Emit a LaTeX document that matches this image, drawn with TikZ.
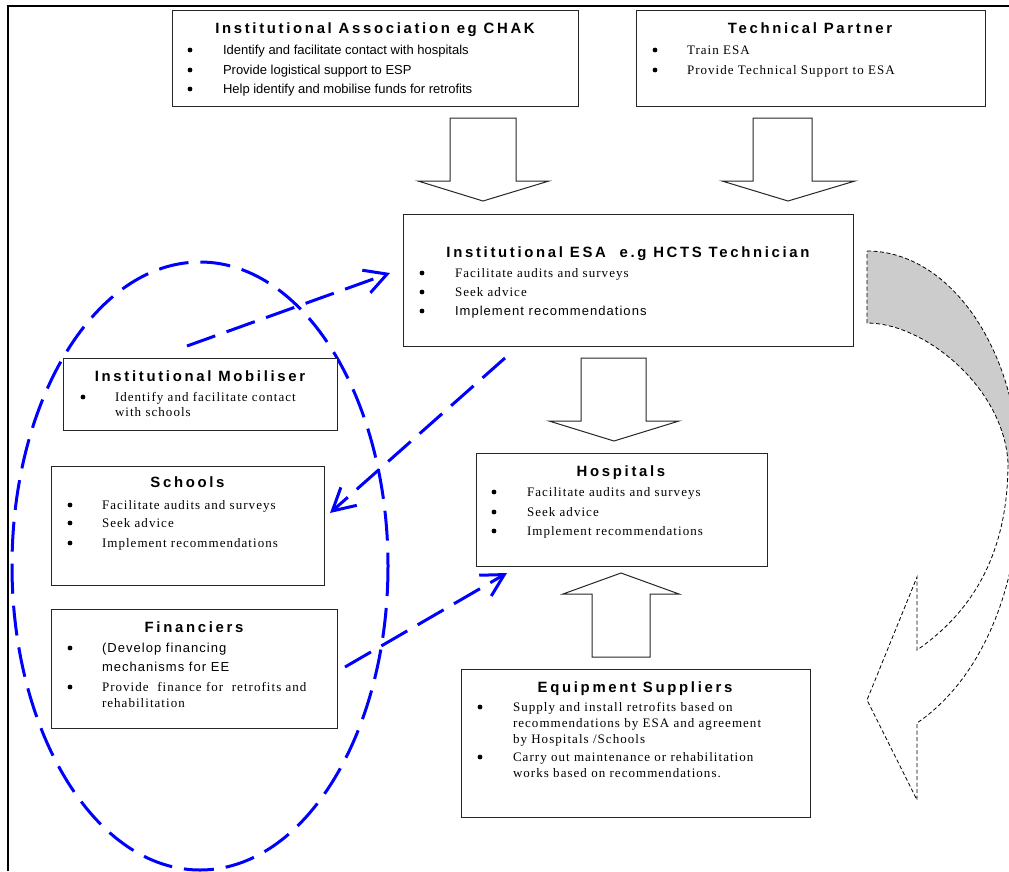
\documentclass[tikz,border=0pt]{standalone}
\usepackage{fontspec}
\setmainfont{Liberation Serif}
\newfontfamily\TitleFam[LetterSpace=18]{Liberation Sans}
\newfontfamily\SansSp[LetterSpace=8]{Liberation Sans}
\newfontfamily\SansPl{Liberation Sans}
\newfontfamily\SerifSp[LetterSpace=8]{Liberation Serif}
\usetikzlibrary{arrows.meta}
\newcommand\FTitle{\TitleFam\bfseries\fontsize{14.9}{17}\selectfont}
\newcommand\FSans{\SansSp\fontsize{13}{15}\selectfont}
\newcommand\FPlain{\SansPl\fontsize{13}{15}\selectfont}
\newcommand\FSerif{\SerifSp\fontsize{13}{15}\selectfont}
% #1 name, #2 x, #3 centre y, #4 font, #5 text
\newcommand\tline[5]{\node[txt,font=#4] (#1) at (#2,#3+4.5) {#5};}
\newcommand\bdot[2]{\fill[black] (#1,#2) circle[radius=2.4pt];}
\begin{document}
\begin{tikzpicture}[x=1pt,y=-1pt,
  box/.style={draw=black!85, line width=1.1pt, fill=white, inner sep=0pt, anchor=north west},
  txt/.style={inner sep=0pt, outer sep=0pt, anchor=base west},
  ttl/.style={inner sep=0pt, outer sep=0pt, anchor=base, font=\FTitle},
  blockarrow/.style={draw=black!85, line width=1pt, fill=white, line join=miter},
  bluedash/.style={draw=blue, line width=3pt, dash pattern=on 30pt off 12pt},
  bluearrow/.style={bluedash, -{Straight Barb[length=22pt,width=24pt]}},
  curvedash/.style={draw=black, line width=0.8pt, dash pattern=on 4pt off 2.5pt}]
\useasboundingbox (0,0) rectangle (1009,871);
\fill[white] (0,0) rectangle (1009,871);

% page frame
\draw[line width=2pt] (8,871) -- (8,6) -- (1009,6);

% blue ellipse
\draw[bluedash] (200,566) ellipse[x radius=188, y radius=304];

% boxes
\node[box, minimum width=406pt, minimum height=96pt] (ia) at (172,10) {};
\node[box, minimum width=349pt, minimum height=96pt] (tp) at (636,10) {};
\node[box, minimum width=450pt, minimum height=132pt] (esa) at (403,214) {};
\node[box, minimum width=291pt, minimum height=113pt] (hosp) at (476,453) {};
\node[box, minimum width=349pt, minimum height=148pt] (equip) at (461,669) {};
\node[box, minimum width=274pt, minimum height=72pt] (mob) at (63,358) {};
\node[box, minimum width=273pt, minimum height=119pt] (sch) at (51,466) {};
\node[box, minimum width=286pt, minimum height=119pt] (fin) at (51,609) {};

% block arrows
\draw[blockarrow] (450,118) -- (516,118) -- (516,181) -- (549,181) -- (483,201) -- (418,181) -- (450,181) -- cycle;
\draw[blockarrow] (753,118) -- (812,118) -- (812,181) -- (855,181) -- (788,201) -- (722,181) -- (753,181) -- cycle;
\draw[blockarrow] (581,358) -- (646,358) -- (646,421) -- (679,421) -- (614,441) -- (549,421) -- (581,421) -- cycle;
\draw[blockarrow] (592,657) -- (650,657) -- (650,594) -- (679,594) -- (621,573) -- (563,594) -- (592,594) -- cycle;

% curved return arrow
\begin{scope}
\clip (860,240) rectangle (1009,465);
\fill[gray!40] (867,251) .. controls (950,251) and (1020,350) .. (1020,480)
  .. controls (1020,590) and (980,680) .. (917,723) -- (917,800) -- (867,700) -- (917,577) -- (917,650)
  .. controls (975,610) and (1008,550) .. (1008,463)
  .. controls (1004,388) and (925,323) .. (867,323) -- cycle;
\end{scope}
\draw[curvedash] (867,251) .. controls (950,251) and (1020,350) .. (1020,480)
  .. controls (1020,590) and (980,680) .. (917,723) -- (917,800) -- (867,700) -- (917,577) -- (917,650)
  .. controls (975,610) and (1008,550) .. (1008,463)
  .. controls (1004,388) and (925,323) .. (867,323) -- cycle;

% blue dashed connectors
\coordinate (b1s) at (187,346);
\coordinate (b1e) at (390,273);
\coordinate (b2s) at (505,358);
\coordinate (b2e) at (330,513);
\coordinate (b3s) at (345,667);
\coordinate (b3e) at (507,573);
\draw[bluearrow] (b1s) -- (b1e);
\draw[bluearrow] (b2s) -- (b2e);
\draw[bluearrow] (b3s) -- (b3e);

% titles
\node[ttl] (iat) at (375,33) {Institutional Association eg CHAK};
\node[ttl] (tpt) at (810,33) {Technical Partner};
\node[ttl] (esat) at (628,257) {Institutional ESA\ \ e.g HCTS Technician};
\node[ttl] (hospt) at (621,476) {Hospitals};
\node[ttl] (equipt) at (635,692) {Equipment Suppliers};
\node[ttl] (mobt) at (200,381) {Institutional Mobiliser};
\node[ttl] (scht) at (187.5,487) {Schools};
\node[ttl] (fint) at (194,632) {Financiers};

% Institutional Association
\bdot{190}{50}\bdot{190}{70}\bdot{190}{89}
\tline{ia1}{223}{50}{\FPlain}{Identify and facilitate contact with hospitals}
\tline{ia2}{223}{70}{\FPlain}{Provide logistical support to ESP}
\tline{ia3}{223}{89}{\FPlain}{Help identify and mobilise funds for retrofits}

% Technical Partner
\bdot{655}{50}\bdot{655}{70}
\tline{tp1}{687}{50}{\FSerif}{Train ESA}
\tline{tp2}{687}{70}{\FSerif}{Provide Technical Support to ESA}

% ESA
\bdot{422}{273}\bdot{422}{292}\bdot{422}{311}
\tline{esa1}{455}{273}{\FSerif}{Facilitate audits and surveys}
\tline{esa2}{455}{292}{\FSerif}{Seek advice}
\tline{esa3}{455}{311}{\FSans}{Implement recommendations}

% Mobiliser
\bdot{83}{397}
\tline{mob1}{115}{397}{\FSerif}{Identify and facilitate contact}
\tline{mob2}{115}{412}{\FSerif}{with schools}

% Schools
\bdot{70}{505}\bdot{70}{523}\bdot{70}{543}
\tline{sch1}{102}{505}{\FSerif}{Facilitate audits and surveys}
\tline{sch2}{102}{523}{\FSerif}{Seek advice}
\tline{sch3}{102}{543}{\FSerif}{Implement recommendations}

% Financiers
\bdot{70}{648}\bdot{70}{687}
\tline{fin1}{102}{648}{\FSans}{(Develop financing}
\tline{fin2}{102}{667}{\FSans}{mechanisms for EE}
\tline{fin3}{102}{687}{\FSerif}{Provide\ \ finance for\ \ retrofits and}
\tline{fin4}{102}{703}{\FSerif}{rehabilitation}

% Hospitals
\bdot{494}{492}\bdot{494}{512}\bdot{494}{531}
\tline{hosp1}{527}{492}{\FSerif}{Facilitate audits and surveys}
\tline{hosp2}{527}{512}{\FSerif}{Seek advice}
\tline{hosp3}{527}{531}{\FSerif}{Implement recommendations}

% Equipment Suppliers
\bdot{480}{707}\bdot{480}{757}
\tline{eq1}{513}{707}{\FSerif}{Supply and install retrofits based on}
\tline{eq2}{513}{723}{\FSerif}{recommendations by ESA and agreement}
\tline{eq3}{513}{739}{\FSerif}{by Hospitals /Schools}
\tline{eq4}{513}{757}{\FSerif}{Carry out maintenance or rehabilitation}
\tline{eq5}{513}{773}{\FSerif}{works based on recommendations.}
\end{tikzpicture}
\end{document}
